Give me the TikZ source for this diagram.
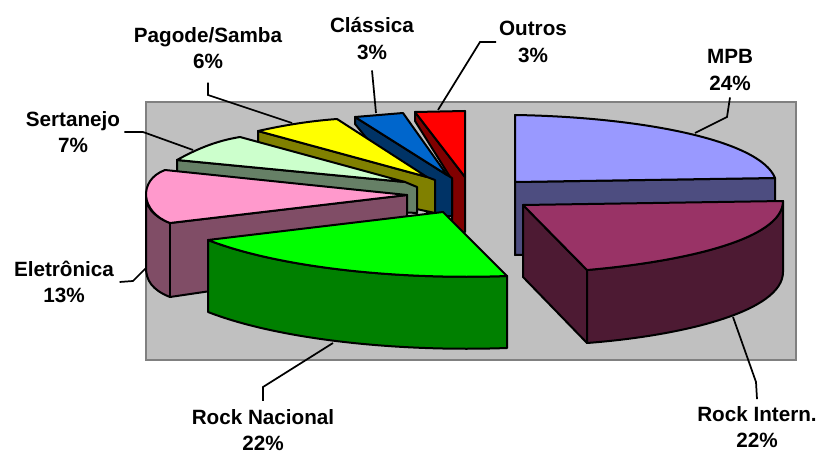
\documentclass[tikz,border=0pt]{standalone}
\usepackage{fontspec}
\setmainfont{Liberation Sans}
\definecolor{plotgray}{HTML}{C0C0C0}
\definecolor{framegray}{HTML}{808080}
\definecolor{outrostop}{HTML}{FF0000}
\definecolor{outrosside}{HTML}{800000}
\definecolor{classtop}{HTML}{0066CC}
\definecolor{classside}{HTML}{003366}
\definecolor{pagtop}{HTML}{FFFF00}
\definecolor{pagside}{HTML}{808000}
\definecolor{serttop}{HTML}{CCFFCC}
\definecolor{sertside}{HTML}{668066}
\definecolor{eletop}{HTML}{FF99CC}
\definecolor{eleside}{HTML}{804D66}
\definecolor{mpbtop}{HTML}{9999FF}
\definecolor{mpbside}{HTML}{4D4D80}
\definecolor{rockintop}{HTML}{993366}
\definecolor{rockinside}{HTML}{4D1A33}
\definecolor{rocknactop}{HTML}{00FF00}
\definecolor{rocknacside}{HTML}{008000}

\begin{document}
\begin{tikzpicture}[x=0.75pt,y=-0.75pt]
	\tikzstyle{slice}=[draw=black,line width=1.5pt,line join=round]
	\tikzstyle{leader}=[draw=black,line width=1.3pt]
	\tikzstyle{lbl}=[align=center,inner sep=0pt,font=\fontsize{15.5}{20}\selectfont\bfseries]
	\useasboundingbox (0,0) rectangle (817,456);
	% plot area
	\fill[plotgray, draw=framegray, line width=2pt] (146,102) rectangle (796,360);
	% Outros
	\path[slice, fill=outrosside] (415,112) -- (465,177) -- (465,232) -- (452,232) -- (452,180) -- (415,121) -- cycle;
	\path[slice, fill=outrostop] (415,112) -- (465,111) -- (465,177) -- cycle;
	% Classica
	\path[slice, fill=classside] (355,117) -- (447,175) -- (452,178) -- (452,216) -- (430,216) -- (355,124) -- cycle;
	\path[slice, fill=classtop] (355,117) -- (403,113) -- (447,175) -- cycle;
	% Pagode/Samba
	\path[slice, fill=pagside] (258,131) -- (427,177) -- (435,180) -- (435,213) -- (258,175) -- cycle;
	\path[slice, fill=pagtop] (258,131) .. controls (285,125) and (310,121) .. (337,119) -- (427,177) -- cycle;
	% Sertanejo
	\path[slice, fill=sertside] (177,160) -- (405,182) -- (417,187) -- (417,213) -- (177,200) -- cycle;
	\path[slice, fill=serttop] (177,160) .. controls (195,150) and (215,141) .. (240,137) -- (405,182) -- cycle;
	% Eletronica
	\path[slice, fill=eleside] (146,196) -- (146,268) .. controls (146,280) and (152,290) .. (170,297) -- (407,262) -- (407,195) -- (170,223) .. controls (152,216) and (146,206) .. (146,196) -- cycle;
	\draw[slice] (170,223) -- (170,297);
	\path[slice, fill=eletop] (165,170) -- (407,195) -- (170,223) .. controls (140,212) and (138,180) .. (165,170) -- cycle;
	% MPB
	\path[slice, fill=mpbside] (515,182) -- (775,178) -- (775,250) -- (515,255) -- cycle;
	\path[slice, fill=mpbtop] (515,115) .. controls (640,117) and (760,140) .. (775,178) -- (515,182) -- cycle;
	% Rock Intern.
	\path[slice, fill=rockinside] (523,205) -- (587,270) -- (587,343) -- (523,277) -- cycle;
	\path[slice, fill=rockinside] (587,270) .. controls (680,262) and (783,240) .. (783,201) -- (783,272) .. controls (783,312) and (680,336) .. (587,343) -- cycle;
	\path[slice, fill=rockintop] (523,205) -- (783,201) .. controls (783,240) and (680,262) .. (587,270) -- cycle;
	% Rock Nacional
	\path[slice, fill=rocknacside] (208,240) .. controls (280,268) and (400,280) .. (507,276) -- (507,348) .. controls (400,352) and (280,340) .. (208,312) -- cycle;
	\path[slice, fill=rocknactop] (208,240) -- (443,212) -- (507,276) .. controls (400,280) and (280,268) .. (208,240) -- cycle;

	% labels
	\node[lbl] (lblPagode) at (208,48) {Pagode/Samba\\6\%};
	\node[lbl] (lblClass) at (372,38.5) {Clássica\\3\%};
	\node[lbl] (lblOutros) at (533,42) {Outros\\3\%};
	\node[lbl] (lblMPB) at (730,70) {MPB\\24\%};
	\node[lbl] (lblSert) at (73,132) {Sertanejo\\7\%};
	\node[lbl] (lblEle) at (64,282) {Eletrônica\\13\%};
	\node[lbl] (lblRockNac) at (263,430) {Rock Nacional\\22\%};
	\node[lbl] (lblRockIn) at (757,427) {Rock Intern.\\22\%};

	\coordinate (cPagode) at (292,123);
	\coordinate (cClass) at (376,113);
	\coordinate (cOutros) at (438,110);
	\coordinate (cMPB) at (695,133);
	\coordinate (cSert) at (193,150);
	\coordinate (cEle) at (146,268);
	\coordinate (cRockNac) at (333,343);
	\coordinate (cRockIn) at (733,317);

	% leader lines
	\draw[leader] ([yshift=-10pt]lblPagode.south) -- (208,95) -- (cPagode);
	\draw[leader] ([yshift=-8pt]lblClass.south) -- (cClass);
	\draw[leader] ([xshift=-2pt]lblOutros.west) -- (480,42) -- (cOutros);
	\draw[leader] ([yshift=-5pt]lblMPB.south) -- (727,117) -- (cMPB);
	\draw[leader] ([xshift=3pt]lblSert.east) -- (143,132) -- (cSert);
	\draw[leader] ([xshift=4pt]lblEle.east) -- (133,281) -- (cEle);
	\draw[leader] ([yshift=6pt]lblRockNac.north) -- (263,387) -- (cRockNac);
	\draw[leader] ([yshift=5pt]lblRockIn.north) -- (756,382) -- (cRockIn);
\end{tikzpicture}
\end{document}
